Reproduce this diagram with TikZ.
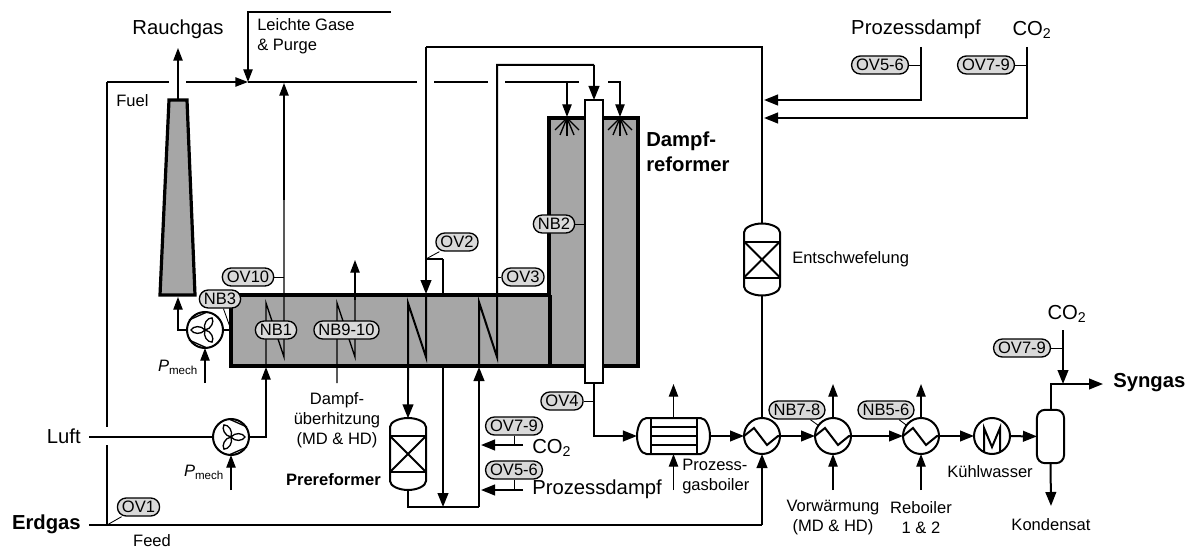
\documentclass[tikz,border=0pt]{standalone}
\usepackage{fontspec}
\setmainfont{Liberation Sans}
\usetikzlibrary{arrows.meta}
\definecolor{furnacegray}{HTML}{A6A6A6}
\definecolor{taggray}{HTML}{D9D9D9}

\tikzset{
  thinline/.style={line width=1pt},
  streamline/.style={line width=1.5pt},
  thinflow/.style={thinline, -{Triangle[length=9.5pt,width=7pt]}},
  streamflow/.style={streamline, -{Triangle[length=10.5pt,width=8pt]}},
  leader/.style={line width=0.65pt},
  wall/.style={line width=2.4pt, line join=miter},
  bigtext/.style={inner sep=0pt, align=center, font=\fontsize{15.2}{18}\selectfont},
  smalltext/.style={inner sep=0pt, align=center, font=\fontsize{12.4}{15}\selectfont},
  boldtext/.style={inner sep=0pt, align=left, font=\fontsize{15.2}{18.5}\selectfont\bfseries},
  tagnode/.style={draw, fill=taggray, line width=1pt, rounded corners=6.6pt, minimum height=13.5pt,
    inner xsep=3.4pt, inner ysep=0pt, font=\fontsize{12.4}{14}\selectfont},
  unitcircle/.style={circle, draw, line width=1.5pt, minimum size=27pt, inner sep=0pt, outer sep=0pt},
  hxnode/.style={unitcircle, path picture={
    \draw[streamline, line join=miter, shift={(path picture bounding box.center)}]
      (-18,0) -- (-8,-8) -- (5,9) -- (16,0) -- (18,0);}},
  coolnode/.style={unitcircle, path picture={
    \draw[streamline, line join=miter, shift={(path picture bounding box.center)}]
      (-8,19) -- (-8,-8) -- (0,11) -- (8,-8) -- (8,19);}},
  vesselbox/.style={minimum width=27pt, minimum height=53.5pt, inner sep=0pt, outer sep=0pt}
}

\newcommand{\drawfan}[2]{%
  \begin{scope}[shift={(#1)}, rotate=#2, thinline]
    \draw (-2,-18) -- (16,-10) (-2,18) -- (16,10);
    \foreach \blade in {0,120,240}
      \draw[rotate=\blade] (0,0) .. controls (4,-5) and (12,-4) .. (14,0)
        .. controls (12,4) and (4,5) .. (0,0);
  \end{scope}}

\newcommand{\drawvessel}[1]{%
  \begin{scope}[shift={(#1)}, streamline]
    \draw (-18,-27) .. controls (-18,-32) and (-9,-36) .. (0,-36)
      .. controls (9,-36) and (18,-32) .. (18,-27) -- (18,27)
      .. controls (18,32) and (9,36) .. (0,36)
      .. controls (-9,36) and (-18,32) .. (-18,27) -- cycle;
    \draw (-18,-18) rectangle (18,18);
    \draw (-18,-18) -- (18,18) (-18,18) -- (18,-18);
  \end{scope}}

\newcommand{\drawboiler}[1]{%
  \begin{scope}[shift={(#1)}, streamline]
    \draw (-27,-18) -- (27,-18) .. controls (33,-18) and (36.5,-8) .. (36.5,0)
      .. controls (36.5,8) and (33,18) .. (27,18) -- (-27,18)
      .. controls (-33,18) and (-36.5,8) .. (-36.5,0)
      .. controls (-36.5,-8) and (-33,-18) .. (-27,-18) -- cycle;
    \draw (-23,-18) -- (-23,18) (23,-18) -- (23,18);
    \draw (-23,-9) -- (23,-9) (-23,0) -- (23,0) (-23,9) -- (23,9);
  \end{scope}}

\begin{document}
\begin{tikzpicture}[x=0.75pt, y=-0.75pt]
  \useasboundingbox (0,0) rectangle (1192,549);

  % furnace and stack
  \fill[furnacegray] (231,295) -- (549,295) -- (549,118) -- (638,118) -- (638,366) -- (231,366) -- cycle;
  \draw[wall] (231,295) -- (549,295) -- (549,118) -- (638,118) -- (638,366) -- (231,366) -- cycle;
  \draw[wall] (550,295) -- (550,366);
  \draw[wall, fill=furnacegray] (169,100) -- (187,100) -- (195,295) -- (160,295) -- cycle;
  \draw[streamline, fill=white] (585,100) rectangle (603,383);
  \foreach \bx in {567,620}
    \foreach \dx/\dy in {-12/12, -7/17, 0/18, 7/17, 12/12}
      \draw[thinline] (\bx,118) -- ++(\dx,\dy);

  % units
  \node[unitcircle] (fana) at (205,330) {};
  \node[unitcircle] (fanb) at (231,437) {};
  \drawfan{fana}{180}
  \drawfan{fanb}{0}
  \node[vesselbox] (entsch) at (762,259.5) {};
  \node[vesselbox] (prerefo) at (408,454) {};
  \drawvessel{entsch}
  \drawvessel{prerefo}
  \node[minimum width=54.8pt, minimum height=27pt, inner sep=0pt, outer sep=0pt] (gasboiler) at (673.5,436) {};
  \drawboiler{gasboiler}
  \node[hxnode] (hxa) at (762,436) {};
  \node[hxnode] (hxb) at (833,436) {};
  \node[hxnode] (hxc) at (921,436) {};
  \node[coolnode] (cool) at (992,436) {};
  \node[draw, streamline, rounded corners=6pt, minimum width=20.3pt, minimum height=40pt, inner sep=0pt, outer sep=0pt] (separator) at (1050.5,436.5) {};

  % free line ends
  \coordinate (purgeend) at (391,12);
  \coordinate (junction) at (248,82);
  \coordinate (fuelcorner) at (107,82);
  \coordinate (fuelgapa) at (107,427);
  \coordinate (fuelgapb) at (107,445);
  \coordinate (feedpoint) at (107,525);
  \coordinate (erdstart) at (89,525);
  \coordinate (luftstart) at (89,437);
  \coordinate (smoketop) at (178,48);
  \coordinate (stacktop) at (178,100);
  \coordinate (stackfoot) at (178,297);
  \coordinate (fanainlet) at (231,330);
  \coordinate (powera) at (205,383);
  \coordinate (powerb) at (231,490);
  \coordinate (entrya) at (266,367);
  \coordinate (exita) at (284,83);
  \coordinate (entryb) at (337,383);
  \coordinate (exitb) at (355,260);
  \coordinate (feedtop) at (762,47);
  \coordinate (feedtopleft) at (426,47);
  \coordinate (coilcin) at (426,294);
  \coordinate (bypasstop) at (443,259);
  \coordinate (bypassup) at (443,295);
  \coordinate (bypassdown) at (443,367);
  \coordinate (bypassend) at (443,507);
  \coordinate (prerefoout) at (408,507);
  \coordinate (mixpoint) at (479,507);
  \coordinate (coildin) at (479,367);
  \coordinate (coildtop) at (497,65);
  \coordinate (tubein) at (594,100);
  \coordinate (tubeout) at (594,383);
  \coordinate (sidecoa) at (523,445);
  \coordinate (sidecob) at (481,445);
  \coordinate (sidesta) at (523,490);
  \coordinate (sidestb) at (481,490);
  \coordinate (burnerleft) at (567,117);
  \coordinate (burnerright) at (620,117);
  \coordinate (steamtop) at (921,47);
  \coordinate (steamin) at (764,100);
  \coordinate (cotop) at (1027,47);
  \coordinate (coin) at (764,118);
  \coordinate (sepbend) at (1051,384);
  \coordinate (syngasend) at (1103,384);
  \coordinate (colow) at (1063,330);
  \coordinate (comix) at (1063,384);
  \coordinate (condend) at (1051,506);

  % fuel header
  \draw[thinline] (fuelcorner) -- (fuelgapa);
  \draw[thinline] (fuelgapb) -- (feedpoint);
  \draw[thinline] (fuelcorner) -- (169,82);
  \draw[thinflow] (186,82) -- (junction);
  \draw[thinline] (junction) -- (417,82);
  \draw[thinline] (434,82) -- (488,82);
  \draw[thinline] (505,82) -- (579,82);
  \draw[thinflow] (567,82) -- (burnerleft);
  \draw[thinflow] (608,82) -| (burnerright);
  \draw[thinflow] (purgeend) -| (junction);
  \draw[thinflow] (stacktop) -- (smoketop);

  % air side
  \draw[thinline] (luftstart) -- (fanb);
  \draw[thinflow] (fanb) -| (entrya);
  \draw[thinline] (entrya) -- (266,303) -- (284,357) -- (284,200);
  \draw[thinflow] (284,200) -- (exita);
  \draw[thinline] (fana) -- (fanainlet);
  \draw[thinflow] (fana) -| (stackfoot);
  \draw[thinflow] (powera) -- (fana);
  \draw[thinflow] (powerb) -- (fanb);

  % steam superheater
  \draw[thinline] (entryb) -- (337,303) -- (355,357) -- (355,300);
  \draw[thinflow] (355,300) -- (exitb);

  % feed and process gas
  \draw[streamline] (erdstart) -- (762,525);
  \draw[streamflow] (762,525) -- (hxa);
  \draw[streamline] (entsch) -- (hxa);
  \draw[streamline] (entsch) |- (feedtopleft);
  \draw[streamflow] (feedtopleft) -- (coilcin);
  \draw[streamline] (coilcin) -- (426,357) -- (408,303) -- (408,380);
  \draw[streamflow] (408,380) -- (prerefo);
  \draw[streamline] (bypasstop) -- (bypassup);
  \draw[streamline] (426,259) -- (bypasstop);
  \draw[streamflow] (bypassdown) -- (bypassend);
  \draw[streamline] (prerefo) -- (prerefoout) -- (mixpoint);
  \draw[streamflow] (mixpoint) -- (coildin);
  \draw[streamline] (coildin) -- (479,302) -- (497,357) -- (coildtop) -- (594,65);
  \draw[streamflow] (594,65) -- (tubein);
  \draw[streamflow] (sidecoa) -- (sidecob);
  \draw[streamflow] (sidesta) -- (sidestb);
  \draw[streamflow] (tubeout) |- (gasboiler);
  \draw[streamflow] (gasboiler) -- (hxa);
  \draw[streamflow] (hxa) -- (hxb);
  \draw[streamflow] (hxb) -- (hxc);
  \draw[streamflow] (hxc) -- (cool);
  \draw[streamflow] (cool) -- (separator);
  \draw[streamline] (separator.north) |- (sepbend);
  \draw[streamflow] (sepbend) -- (syngasend);
  \draw[streamflow] (colow) -- (comix);
  \draw[streamflow] (separator.south) -- (condend);
  \draw[streamflow] (steamtop) |- (steamin);
  \draw[streamflow] (cotop) |- (coin);

  % utilities
  \coordinate (boilerup) at (673.5,384);
  \coordinate (boilerdown) at (673.5,490);
  \coordinate (hxbup) at (833,384);
  \coordinate (hxbdown) at (833,490);
  \coordinate (hxcup) at (921,384);
  \coordinate (hxcdown) at (921,490);
  \draw[thinflow] (gasboiler) -- (boilerup);
  \draw[thinflow] (boilerdown) -- (gasboiler);
  \draw[thinflow] (hxb) -- (hxbup);
  \draw[thinflow] (hxbdown) -- (hxb);
  \draw[thinflow] (hxc) -- (hxcup);
  \draw[thinflow] (hxcdown) -- (hxc);

  % tags
  \node[tagnode] (ovone) at (138.5,507) {OV1};
  \node[tagnode] (ovten) at (248,277) {OV10};
  \node[tagnode] (nbthree) at (220,299) {NB3};
  \node[tagnode] (nbone) at (276,330) {NB1};
  \node[tagnode] (nbnine) at (346.5,330) {NB9-10};
  \node[tagnode] (ovtwo) at (457,242) {OV2};
  \node[tagnode] (ovthree) at (523,277) {OV3};
  \node[tagnode] (nbtwo) at (554,224) {NB2};
  \node[tagnode] (ovfour) at (562,401) {OV4};
  \node[tagnode] (ovsevena) at (514,426) {OV7-9};
  \node[tagnode] (ovfivea) at (514,470) {OV5-6};
  \node[tagnode] (nbseven) at (797,410) {NB7-8};
  \node[tagnode] (nbfive) at (886,410) {NB5-6};
  \node[tagnode] (ovfiveb) at (880,65) {OV5-6};
  \node[tagnode] (ovsevenb) at (986,65) {OV7-9};
  \node[tagnode] (ovsevenc) at (1022,348) {OV7-9};

  \draw[leader] (ovone) -- (feedpoint);
  \draw[leader] (ovten) -- (284,277);
  \draw[leader] (nbthree) -- (230,327);
  \draw[leader] (ovtwo) -- (426,259);
  \draw[leader] (ovthree) -- (497,277);
  \draw[leader] (nbtwo) -- (585,224);
  \draw[leader] (ovfour) -- (594,401);
  \draw[leader] (ovsevena) -- (514,445);
  \draw[leader] (ovfivea) -- (514,490);
  \draw[leader] (nbseven) -- (hxb);
  \draw[leader] (nbfive) -- (hxc);
  \draw[leader] (ovfiveb) -- (921,65);
  \draw[leader] (ovsevenb) -- (1027,65);
  \draw[leader] (ovsevenc) -- (1063,348);

  % labels
  \node[bigtext] (rauchgas) at (178,29) {Rauchgas};
  \node[smalltext, align=left, anchor=north west] (leichte) at (257,18) {Leichte Gase\\\& Purge};
  \node[smalltext, anchor=west] (fuel) at (116,101) {Fuel};
  \node[bigtext] (prozessa) at (916,29) {Prozessdampf};
  \node[bigtext] (coa) at (1032,30) {CO\textsubscript{2}};
  \node[boldtext, anchor=north west] (dampfref) at (646,132) {Dampf-\\reformer};
  \node[smalltext, anchor=west] (entschtext) at (792,259) {Entschwefelung};
  \node[bigtext] (cob) at (1067,314) {CO\textsubscript{2}};
  \node[font=\fontsize{15.2}{18}\selectfont\bfseries, inner sep=0pt, anchor=west] (syngas) at (1113,383) {Syngas};
  \node[smalltext] (pmecha) at (178,367) {\textit{P}\textsubscript{mech}};
  \node[smalltext] (pmechb) at (204,472) {\textit{P}\textsubscript{mech}};
  \node[smalltext] (ueberhitz) at (337,420) {Dampf-\\überhitzung\\(MD \& HD)};
  \node[bigtext, anchor=east] (luft) at (81,436) {Luft};
  \node[boldtext, anchor=east] (erdgas) at (81,524) {Erdgas};
  \node[smalltext] (feed) at (152,541) {Feed};
  \node[smalltext, font=\fontsize{12.4}{15}\selectfont\bfseries, anchor=east] (prereftext) at (381,480) {Prereformer};
  \node[bigtext, anchor=west] (cotext) at (532,448) {CO\textsubscript{2}};
  \node[bigtext, anchor=west] (prozessb) at (532,489) {Prozessdampf};
  \node[smalltext, align=left, anchor=west] (boilertext) at (682,477) {Prozess-\\gasboiler};
  \node[smalltext] (vorwaerm) at (833,518) {Vorwärmung\\(MD \& HD)};
  \node[smalltext] (reboiler) at (921,518) {Reboiler\\1 \& 2};
  \node[smalltext] (kuehl) at (990,472) {Kühlwasser};
  \node[smalltext] (kondensat) at (1051,525) {Kondensat};
\end{tikzpicture}
\end{document}
